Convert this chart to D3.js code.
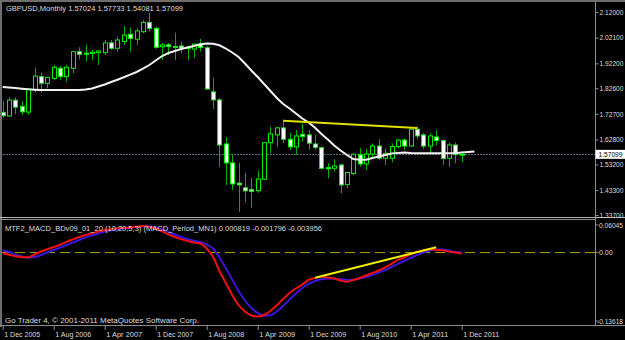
<!DOCTYPE html>
<html>
<head>
<meta charset="utf-8">
<script src="https://cdn.jsdelivr.net/npm/d3@7"></script>
<style>
  body { margin: 0; background: #000; }
  svg { display: block; }
  text { font-family: "Liberation Sans", Arial, sans-serif; font-size: 8px; fill: #dcdcdc; }
</style>
</head>
<body>
<svg id="chart" width="625" height="340"></svg>
<script>
// monthly GBPUSD bars, Dec 2005 .. Dec 2011 (bar index 0..72)
const opens = [1.733,1.719,1.780,1.756,1.734,1.819,1.871,1.845,1.864,1.903,
  1.871,1.903,1.967,1.961,1.960,1.963,1.963,2.001,1.980,2.006,
  2.034,2.015,2.044,2.080,2.057,1.986,1.993,1.987,1.989,1.980,
  1.977,1.996,1.982,1.812,1.781,1.611,1.538,1.460,1.442,1.435,
  1.431,1.475,1.616,1.646,1.673,1.629,1.600,1.648,1.646,1.611,
  1.597,1.520,1.517,1.530,1.455,1.497,1.569,1.534,1.572,1.603,
  1.556,1.556,1.601,1.626,1.603,1.668,1.646,1.603,1.638,1.624,
  1.556,1.607,1.57024];
const highs = [1.776,1.791,1.791,1.776,1.826,1.904,1.886,1.870,1.916,1.912,
  1.916,1.969,1.984,1.993,1.974,1.974,2.012,2.012,2.025,2.066,
  2.061,2.057,2.089,2.117,2.063,1.999,2.000,2.040,2.005,1.989,
  1.997,2.016,1.989,1.866,1.788,1.638,1.569,1.538,1.499,1.480,
  1.508,1.619,1.678,1.678,1.704,1.653,1.665,1.691,1.665,1.646,
  1.601,1.537,1.552,1.535,1.501,1.575,1.595,1.591,1.613,1.629,
  1.594,1.613,1.629,1.632,1.672,1.680,1.653,1.653,1.664,1.628,
  1.617,1.617,1.57733];
const lows = [1.712,1.715,1.726,1.723,1.723,1.811,1.809,1.826,1.858,1.858,
  1.851,1.884,1.937,1.928,1.935,1.916,1.954,1.973,1.967,1.993,
  1.967,1.993,2.038,2.044,1.978,1.935,1.954,1.935,1.961,1.935,
  1.943,1.967,1.821,1.746,1.523,1.453,1.434,1.349,1.387,1.364,
  1.423,1.472,1.575,1.600,1.614,1.588,1.569,1.620,1.588,1.588,
  1.512,1.478,1.506,1.421,1.440,1.490,1.523,1.511,1.556,1.550,
  1.530,1.540,1.594,1.588,1.600,1.630,1.592,1.576,1.607,1.530,
  1.523,1.537,1.54081];
const closes = [1.720,1.780,1.753,1.735,1.823,1.873,1.845,1.868,1.907,1.871,
  1.907,1.967,1.957,1.959,1.965,1.970,2.001,1.980,2.012,2.031,
  2.018,2.047,2.080,2.057,1.984,1.993,1.987,1.984,1.980,1.985,
  1.996,1.983,1.823,1.781,1.607,1.538,1.457,1.453,1.430,1.428,
  1.476,1.616,1.650,1.673,1.629,1.600,1.642,1.640,1.614,1.598,
  1.517,1.515,1.526,1.453,1.501,1.571,1.534,1.572,1.603,1.556,
  1.575,1.601,1.626,1.603,1.668,1.642,1.603,1.642,1.624,1.555,
  1.607,1.570,1.57099];

// moving average (white), runs two bars past the last candle
const maValues = [1.8308,1.8288,1.8269,1.8242,1.8219,1.8203,1.8192,1.8192,1.8192,1.8192,
  1.8192,1.8192,1.8192,1.8211,1.8250,1.8327,1.8404,1.8500,1.8589,1.8682,
  1.8782,1.8886,1.9013,1.9156,1.9330,1.9503,1.9619,1.9696,1.9773,1.9831,
  1.9889,1.9954,1.9985,1.9974,1.9916,1.9792,1.9638,1.9465,1.9214,1.8944,
  1.8693,1.8423,1.8153,1.7883,1.7652,1.7478,1.7286,1.7093,1.6939,1.6738,
  1.6495,1.6283,1.6052,1.5859,1.5685,1.5531,1.5504,1.5504,1.5569,1.5627,
  1.5685,1.5743,1.5762,1.5782,1.5762,1.5751,1.5751,1.5751,1.5751,1.5751,
  1.5751,1.5751,1.5782,1.5801,1.5820];

// MACD indicator lines
const macdRed = [-0.0013,-0.0041,-0.0069,-0.0085,-0.0087,-0.0035,0.0020,0.0063,0.0104,0.0145,
  0.0200,0.0245,0.0288,0.0326,0.0358,0.0391,0.0416,0.0432,0.0453,0.0460,
  0.0467,0.0479,0.0493,0.0475,0.0445,0.0395,0.0339,0.0289,0.0249,0.0215,
  0.0186,0.0169,0.0076,-0.0082,-0.0341,-0.0564,-0.0787,-0.0972,-0.1093,-0.1167,
  -0.1187,-0.1158,-0.1083,-0.0976,-0.0861,-0.0749,-0.0666,-0.0592,-0.0508,-0.0471,
  -0.0447,-0.0462,-0.0480,-0.0518,-0.0540,-0.0508,-0.0471,-0.0425,-0.0378,-0.0332,
  -0.0276,-0.0211,-0.0134,-0.0091,-0.0032,0.0011,0.0041,0.0061,0.0054,0.0041,
  0.0020,0.0002,-0.0018];
const macdBlue = [0.0039,0.0011,-0.0035,-0.0072,-0.0096,-0.0082,-0.0045,0.0002,0.0048,0.0095,
  0.0141,0.0187,0.0234,0.0280,0.0317,0.0354,0.0386,0.0410,0.0432,0.0451,
  0.0464,0.0475,0.0484,0.0488,0.0466,0.0429,0.0382,0.0336,0.0289,0.0252,
  0.0221,0.0197,0.0150,0.0076,-0.0091,-0.0286,-0.0499,-0.0712,-0.0889,-0.1028,
  -0.1120,-0.1172,-0.1163,-0.1093,-0.0991,-0.0870,-0.0759,-0.0657,-0.0582,-0.0527,
  -0.0495,-0.0480,-0.0484,-0.0495,-0.0508,-0.0505,-0.0480,-0.0453,-0.0416,-0.0369,
  -0.0323,-0.0267,-0.0208,-0.0156,-0.0100,-0.0045,0.0002,0.0039,0.0059,0.0059,
  0.0039,0.0011,0.0008];

// hand drawn trend lines: [bar index, value]
const priceTrend = [[44, 1.7008], [65, 1.6727]];
const macdTrend = [[49, -0.0466], [68, 0.0098]];

const priceTicks = [2.12, 2.021, 1.922, 1.826, 1.727, 1.628, 1.532, 1.433, 1.337];
const macdTicks = [0.06045, 0, -0.13618];
const macdTickLabels = ["0.06045", "0.00", "-0.13618"];
const timeTickIndex = [0, 8, 16, 24, 32, 40, 48, 56, 64, 72];
const timeTickLabels = ["1 Dec 2005", "1 Aug 2006", "1 Apr 2007", "1 Dec 2007", "1 Aug 2008",
  "1 Apr 2009", "1 Dec 2009", "1 Aug 2010", "1 Apr 2011", "1 Dec 2011"];
const lastPrice = 1.57099;

var width = 625, height = 340;
var axisX = 595.5;
var svg = d3.select("#chart");

var x = d3.scaleLinear().domain([0, 72]).range([2.7, 461.7]);
var y = d3.scaleLinear().domain([1.337, 2.12]).range([215, 12]);
var yi = d3.scaleLinear().domain([-0.13618, 0.06045]).range([326, 220]);

svg.append("rect").attr("width", width).attr("height", height).attr("fill", "#000");

var defs = svg.append("defs");
defs.append("clipPath").attr("id", "clipMain")
  .append("rect").attr("x", 2).attr("y", 2).attr("width", axisX - 2).attr("height", 215);
defs.append("clipPath").attr("id", "clipInd")
  .append("rect").attr("x", 2).attr("y", 220).attr("width", axisX - 2).attr("height", 105);

// ---- main price panel
var main = svg.append("g").attr("clip-path", "url(#clipMain)");

// bid line
main.append("line")
  .attr("x1", 0).attr("x2", axisX)
  .attr("y1", Math.round(y(lastPrice)) + 0.5).attr("y2", Math.round(y(lastPrice)) + 0.5)
  .attr("stroke", "#5a6a78").attr("stroke-dasharray", "2,1");

var bars = d3.range(opens.length).map(i => ({i: i, o: opens[i], h: highs[i], l: lows[i], c: closes[i]}));
var px = d => Math.round(x(d.i)) + 0.5;

main.selectAll("line.wick")
  .data(bars)
  .enter()
  .append("line")
  .attr("class", "wick")
  .attr("x1", px).attr("x2", px)
  .attr("y1", d => y(d.h)).attr("y2", d => y(d.l))
  .attr("stroke", "#00b000")
;

main.selectAll("rect.body")
  .data(bars)
  .enter()
  .append("rect")
  .attr("class", "body")
  .attr("x", d => px(d) - 2)
  .attr("width", 4)
  .attr("y", d => y(Math.max(d.o, d.c)))
  .attr("height", d => Math.max(1, Math.abs(y(d.o) - y(d.c))))
  .attr("fill", d => d.c >= d.o ? "#000" : "#ffffff")
  .attr("stroke", "#00f000")
;

var maLine = d3.line().x((d, i) => x(i)).y(d => y(d));
main.append("path")
  .attr("d", maLine(maValues))
  .attr("fill", "none")
  .attr("stroke", "#f2f2f2")
  .attr("stroke-width", 2)
;

var trendLine = d3.line().x(d => x(d[0]));
main.append("path")
  .attr("d", trendLine.y(d => y(d[1]))(priceTrend))
  .attr("stroke", "#e0e000")
  .attr("stroke-width", 2)
;

svg.append("text").attr("x", 6).attr("y", 11)
  .attr("textLength", 177).attr("lengthAdjust", "spacingAndGlyphs")
  .text("GBPUSD,Monthly  1.57024 1.57733 1.54081 1.57099");

// ---- indicator panel
var ind = svg.append("g").attr("clip-path", "url(#clipInd)");

ind.append("line")
  .attr("x1", 0).attr("x2", axisX)
  .attr("y1", yi(0)).attr("y2", yi(0))
  .attr("stroke", "#a8a800")
  .attr("stroke-dasharray", "10,5")
;

var macdLine = d3.line().x((d, i) => x(i)).y(d => yi(d)).curve(d3.curveMonotoneX);
ind.append("path")
  .attr("d", macdLine(macdBlue))
  .attr("fill", "none")
  .attr("stroke", "#3c14dc")
  .attr("stroke-width", 2)
;
ind.append("path")
  .attr("d", macdLine(macdRed))
  .attr("fill", "none")
  .attr("stroke", "#f01010")
  .attr("stroke-width", 2)
;
ind.append("path")
  .attr("d", d3.line().x(d => x(d[0])).y(d => yi(d[1]))(macdTrend))
  .attr("stroke", "#f0f000")
  .attr("stroke-width", 2)
;

svg.append("text").attr("x", 5).attr("y", 230.5)
  .attr("textLength", 317).attr("lengthAdjust", "spacingAndGlyphs")
  .text("MTF2_MACD_BDv09_01_20 (10,20,5,3) (MACD_Period_MN1) 0.000819 -0.001796 -0.003956");
svg.append("text").attr("x", 5).attr("y", 322.5)
  .attr("textLength", 194).attr("lengthAdjust", "spacingAndGlyphs")
  .text("Go Trader 4, \u00a9 2001-2011 MetaQuotes Software Corp.");

// ---- frame
var frame = "#8c8c8c";
svg.append("rect").attr("x", 0).attr("y", 0).attr("width", width).attr("height", 2).attr("fill", "#6e6e6e");
svg.append("rect").attr("x", 0).attr("y", 0).attr("width", 2).attr("height", 327).attr("fill", "#6e6e6e");
svg.append("line").attr("x1", axisX).attr("x2", axisX).attr("y1", 2).attr("y2", 326).attr("stroke", frame);
svg.append("line").attr("x1", 0).attr("x2", width).attr("y1", 217.5).attr("y2", 217.5).attr("stroke", "#b4b4b4");
svg.append("line").attr("x1", 0).attr("x2", axisX).attr("y1", 219.5).attr("y2", 219.5).attr("stroke", frame);
svg.append("line").attr("x1", 0).attr("x2", width).attr("y1", 325.5).attr("y2", 325.5).attr("stroke", frame);

// ---- price axis (labels kept inside the narrow strip right of the axis)
var labelFont = "7px";
var yAxis = d3.axisRight(y).tickValues(priceTicks).tickFormat(d3.format(".5f")).tickSize(3).tickPadding(1);
var ya = svg.append("g").attr("transform", "translate(" + axisX + ",0)").call(yAxis);
ya.select(".domain").remove();
ya.selectAll("line").attr("stroke", frame);
ya.selectAll("text")
  .attr("fill", "#dcdcdc")
  .attr("textLength", 24).attr("lengthAdjust", "spacingAndGlyphs")
  .style("font-family", "Liberation Sans, Arial, sans-serif").style("font-size", labelFont);

svg.append("rect")
  .attr("x", axisX).attr("y", y(lastPrice) - 4.5)
  .attr("width", 30).attr("height", 9)
  .attr("fill", "#ffffff");
svg.append("text")
  .attr("x", axisX + 3).attr("y", y(lastPrice) + 2.5)
  .attr("textLength", 24).attr("lengthAdjust", "spacingAndGlyphs")
  .style("fill", "#000").style("font-size", labelFont)
  .text(d3.format(".5f")(lastPrice));

// ---- indicator axis
var ia = svg.append("g").attr("transform", "translate(" + axisX + ",0)");
ia.selectAll("text")
  .data(macdTicks)
  .enter()
  .append("text")
  .attr("x", (d, k) => k == 2 ? 1.5 : 3.5)
  .attr("y", (d, k) => yi(d) + (k == 0 ? 7.5 : k == 2 ? -2.5 : 2.5))
  .attr("textLength", (d, k) => k == 0 ? 24 : k == 2 ? 26 : null)
  .attr("lengthAdjust", "spacingAndGlyphs")
  .style("font-size", labelFont)
  .text((d, k) => macdTickLabels[k])
;
ia.selectAll("line")
  .data(macdTicks)
  .enter()
  .append("line")
  .attr("x1", 0).attr("x2", 3)
  .attr("y1", (d, k) => yi(d) + (k == 0 ? 5 : k == 2 ? -5 : 0))
  .attr("y2", (d, k) => yi(d) + (k == 0 ? 5 : k == 2 ? -5 : 0))
  .attr("stroke", frame)
;

// ---- time axis
var xAxis = d3.axisBottom(x).tickValues(timeTickIndex).tickFormat((d, k) => timeTickLabels[k]).tickSize(4).tickPadding(0);
var xa = svg.append("g").attr("transform", "translate(0,326)").call(xAxis);
xa.select(".domain").remove();
xa.selectAll("line").attr("stroke", frame);
xa.selectAll("text")
  .attr("text-anchor", "start")
  .attr("dx", 1)
  .attr("dy", 0)
  .attr("y", 11)
  .attr("textLength", 36).attr("lengthAdjust", "spacingAndGlyphs")
  .attr("fill", "#dcdcdc")
  .style("font-family", "Liberation Sans, Arial, sans-serif")
  .style("font-size", "8px");
</script>
</body>
</html>
